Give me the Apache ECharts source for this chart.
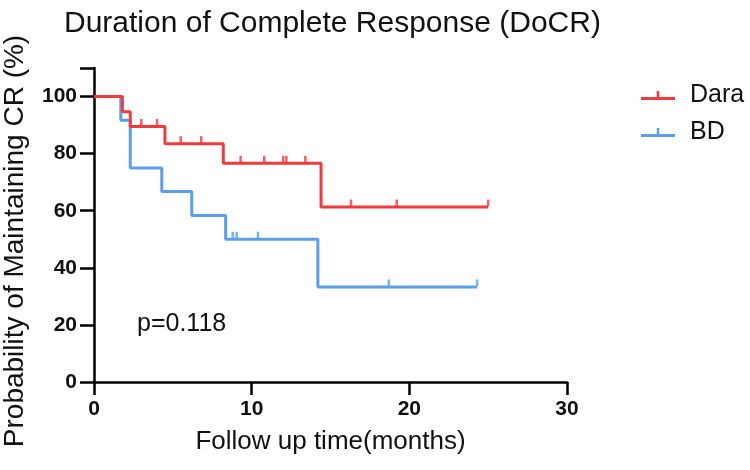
<!DOCTYPE html>
<html>
<head>
<meta charset="utf-8">
<script src="https://cdn.jsdelivr.net/npm/echarts@6/dist/echarts.min.js"></script>
<style>html,body{margin:0;padding:0;background:#fff}#c{width:750px;height:470px}</style>
</head>
<body>
<div id="c"></div>
<script>
// Kaplan-Meier step data (time in months, survival in %)
var daraTimes = [0, 1.8, 2.3, 4.5, 8.2, 14.4, 25.0];
var daraSurv = [100, 94.7, 89.5, 83.5, 76.6, 61.3, 61.3];
var daraCensor = [3.0, 4.0, 5.5, 6.8, 9.3, 10.8, 12.0, 12.2, 13.4, 16.3, 19.2, 25.0];

var bdTimes = [0, 1.7, 2.3, 4.3, 6.2, 8.35, 14.2, 24.3];
var bdSurv = [100, 91.7, 75, 66.7, 58.3, 50, 33.3, 33.3];
var bdCensor = [8.8, 9.05, 10.4, 18.7, 24.3];

var xTicks = [0, 10, 20, 30];
var yTicks = [0, 20, 40, 60, 80, 100];
var seriesNames = ['Dara', 'BD'];
var pText = 'p=0.118';

var RED = '#ef3a3e', BLUE = '#5a9fe9';
var FONT = 'Liberation Sans, Arial, sans-serif';

function pairs(t, s) { return t.map(function (v, i) { return [v, s[i]]; }); }
function survAt(t, times, surv) {
  var v = surv[0];
  for (var i = 0; i < times.length; i++) { if (times[i] <= t) v = surv[i]; }
  return v;
}
function censorPts(c, times, surv) { return c.map(function (t) { return [t, survAt(t, times, surv)]; }); }

var legendIcon = 'path://M0,14L40,14L40,17.5L0,17.5Z M18.5,7L21.5,7L21.5,14L18.5,14Z';

var chart = echarts.init(document.getElementById('c'), null, { renderer: 'canvas' });
chart.setOption({
  backgroundColor: '#fff',
  animation: false,
  textStyle: { fontFamily: FONT },
  title: {
    text: 'Duration of Complete Response (DoCR)',
    left: 59, top: 4,
    textStyle: { fontFamily: FONT, fontSize: 30, fontWeight: 'normal', color: '#111' }
  },
  legend: {
    data: seriesNames.map(function (n, i) { return { name: n, icon: legendIcon, itemStyle: { color: i ? BLUE : RED } }; }),
    orient: 'vertical', left: 636, top: 78,
    itemWidth: 34, itemHeight: 12, itemGap: 12, itemStyle: { borderWidth: 0 },
    textStyle: { fontFamily: FONT, fontSize: 25, color: '#111', padding: [0, 0, 0, 10] },
    selectedMode: false
  },
  grid: { left: 94, right: 183, top: 68, bottom: 88, containLabel: false },
  xAxis: {
    type: 'value', min: 0, max: 30, interval: 10,
    name: 'Follow up time(months)', nameLocation: 'middle', nameGap: 47,
    nameTextStyle: { fontFamily: FONT, fontSize: 26, color: '#111' },
    axisLine: { lineStyle: { color: '#000', width: 2.5 } },
    axisTick: { length: 13, lineStyle: { color: '#000', width: 2.5 } },
    axisLabel: { fontFamily: FONT, fontSize: 21, fontWeight: 'bold', color: '#111', margin: 17 },
    splitLine: { show: false }
  },
  yAxis: {
    type: 'value', min: 0, max: 110, interval: 20,
    axisLine: { show: true, lineStyle: { color: '#000', width: 2.5 } },
    axisTick: { show: true, length: 14, lineStyle: { color: '#000', width: 2.5 } },
    axisLabel: {
      fontFamily: FONT, fontSize: 21, fontWeight: 'bold', color: '#111', margin: 17,
      formatter: function (v) { return yTicks.indexOf(v) >= 0 ? String(v) : ''; }
    },
    splitLine: { show: false }
  },
  graphic: [
    {
      type: 'text', left: 137, top: 312,
      style: { text: pText, fontFamily: FONT, fontSize: 25, fill: '#111' }
    },
    {
      type: 'text', x: 15, y: 241, rotation: Math.PI / 2,
      style: { text: 'Probability of Maintaining CR (%)', fontFamily: FONT, fontSize: 28, fill: '#111', align: 'center', verticalAlign: 'middle' }
    }
  ],
  series: [
    {
      name: seriesNames[0], type: 'line', step: 'end', data: pairs(daraTimes, daraSurv),
      showSymbol: false, symbol: 'none', color: RED,
      lineStyle: { color: RED, width: 3 }, z: 3
    },
    {
      name: seriesNames[1], type: 'line', step: 'end', data: pairs(bdTimes, bdSurv),
      showSymbol: false, symbol: 'none', color: BLUE,
      lineStyle: { color: BLUE, width: 3 }, z: 2
    },
    {
      name: seriesNames[0], type: 'scatter', data: censorPts(daraCensor, daraTimes, daraSurv),
      symbol: 'rect', symbolSize: [2.5, 7], symbolOffset: [0, -4], itemStyle: { color: RED }, z: 3
    },
    {
      name: seriesNames[1], type: 'scatter', data: censorPts(bdCensor, bdTimes, bdSurv),
      symbol: 'rect', symbolSize: [2.5, 7], symbolOffset: [0, -4], itemStyle: { color: BLUE }, z: 2
    }
  ]
});
</script>
</body>
</html>
